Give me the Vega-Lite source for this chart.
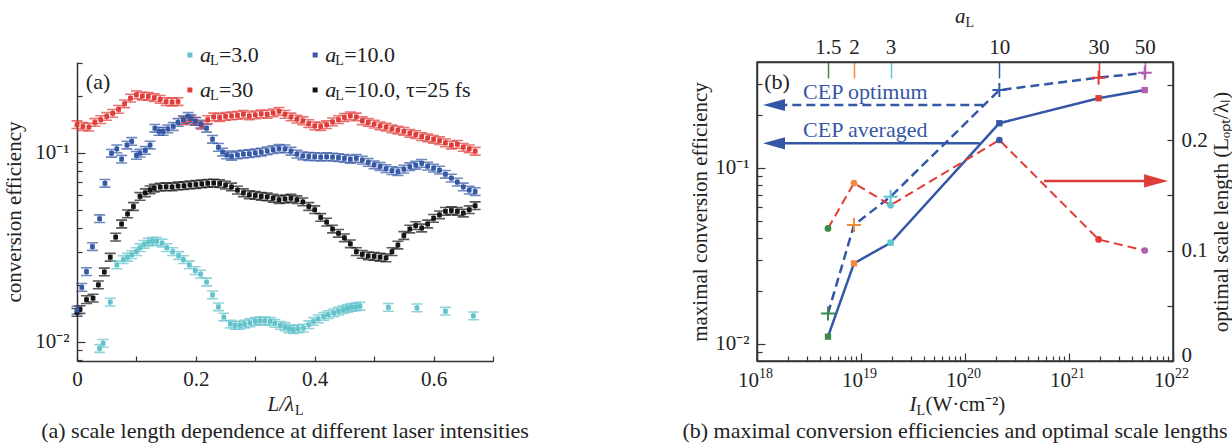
{
  "$schema": "https://vega.github.io/schema/vega-lite/v6.json",
  "padding": {"left": 3, "top": 5, "right": 0, "bottom": 0},
  "bounds": "flush",
  "spacing": 264,
  "background": "white",
  "resolve": {"scale": {"color": "independent"}},
  "datasets": {
    "left": [
      {"s":"a30","x":0,"y":0.141},{"s":"a30","x":0.01,"y":0.138},{"s":"a30","x":0.02,"y":0.137},{"s":"a30","x":0.03,"y":0.145},{"s":"a30","x":0.04,"y":0.150},{"s":"a30","x":0.05,"y":0.156},{"s":"a30","x":0.06,"y":0.162},{"s":"a30","x":0.07,"y":0.170},{"s":"a30","x":0.08,"y":0.182},{"s":"a30","x":0.09,"y":0.195},{"s":"a30","x":0.10,"y":0.203},{"s":"a30","x":0.11,"y":0.200},{"s":"a30","x":0.12,"y":0.199},{"s":"a30","x":0.13,"y":0.196},{"s":"a30","x":0.14,"y":0.192},{"s":"a30","x":0.15,"y":0.187},{"s":"a30","x":0.16,"y":0.186},{"s":"a30","x":0.17,"y":0.187},{"s":"a30","x":0.18,"y":0.148},{"s":"a30","x":0.19,"y":0.150},{"s":"a30","x":0.20,"y":0.147},{"s":"a30","x":0.21,"y":0.140},{"s":"a30","x":0.22,"y":0.150},{"s":"a30","x":0.23,"y":0.155},{"s":"a30","x":0.24,"y":0.154},{"s":"a30","x":0.25,"y":0.156},{"s":"a30","x":0.26,"y":0.157},{"s":"a30","x":0.27,"y":0.158},{"s":"a30","x":0.28,"y":0.160},{"s":"a30","x":0.29,"y":0.157},{"s":"a30","x":0.30,"y":0.159},{"s":"a30","x":0.31,"y":0.161},{"s":"a30","x":0.32,"y":0.160},{"s":"a30","x":0.33,"y":0.163},{"s":"a30","x":0.34,"y":0.166},{"s":"a30","x":0.35,"y":0.160},{"s":"a30","x":0.36,"y":0.155},{"s":"a30","x":0.37,"y":0.151},{"s":"a30","x":0.38,"y":0.148},{"s":"a30","x":0.39,"y":0.143},{"s":"a30","x":0.40,"y":0.139},{"s":"a30","x":0.41,"y":0.138},{"s":"a30","x":0.42,"y":0.141},{"s":"a30","x":0.43,"y":0.146},{"s":"a30","x":0.44,"y":0.150},{"s":"a30","x":0.45,"y":0.154},{"s":"a30","x":0.46,"y":0.157},{"s":"a30","x":0.47,"y":0.155},{"s":"a30","x":0.48,"y":0.148},{"s":"a30","x":0.49,"y":0.145},{"s":"a30","x":0.50,"y":0.142},{"s":"a30","x":0.51,"y":0.139},{"s":"a30","x":0.52,"y":0.137},{"s":"a30","x":0.53,"y":0.134},{"s":"a30","x":0.54,"y":0.132},{"s":"a30","x":0.55,"y":0.130},{"s":"a30","x":0.56,"y":0.127},{"s":"a30","x":0.57,"y":0.125},{"s":"a30","x":0.58,"y":0.122},{"s":"a30","x":0.59,"y":0.120},{"s":"a30","x":0.60,"y":0.118},{"s":"a30","x":0.61,"y":0.116},{"s":"a30","x":0.62,"y":0.113},{"s":"a30","x":0.63,"y":0.110},{"s":"a30","x":0.64,"y":0.111},{"s":"a30","x":0.65,"y":0.107},{"s":"a30","x":0.66,"y":0.105},{"s":"a30","x":0.67,"y":0.102},
      {"s":"a10t","x":0,"y":0.0143},{"s":"a10t","x":0.005,"y":0.0148},{"s":"a10t","x":0.016,"y":0.0167},{"s":"a10t","x":0.027,"y":0.0170},{"s":"a10t","x":0.036,"y":0.0200},{"s":"a10t","x":0.046,"y":0.0234},{"s":"a10t","x":0.056,"y":0.0280},{"s":"a10t","x":0.065,"y":0.0358},{"s":"a10t","x":0.075,"y":0.0420},{"s":"a10t","x":0.085,"y":0.0475},{"s":"a10t","x":0.095,"y":0.0520},{"s":"a10t","x":0.106,"y":0.0588},{"s":"a10t","x":0.115,"y":0.0615},{"s":"a10t","x":0.123,"y":0.0637},{"s":"a10t","x":0.13,"y":0.0650},{"s":"a10t","x":0.14,"y":0.0659},{"s":"a10t","x":0.15,"y":0.0662},{"s":"a10t","x":0.16,"y":0.0660},{"s":"a10t","x":0.17,"y":0.0668},{"s":"a10t","x":0.18,"y":0.0670},{"s":"a10t","x":0.19,"y":0.0677},{"s":"a10t","x":0.20,"y":0.0680},{"s":"a10t","x":0.21,"y":0.0686},{"s":"a10t","x":0.22,"y":0.0690},{"s":"a10t","x":0.23,"y":0.0692},{"s":"a10t","x":0.24,"y":0.0688},{"s":"a10t","x":0.25,"y":0.0675},{"s":"a10t","x":0.26,"y":0.0660},{"s":"a10t","x":0.27,"y":0.0635},{"s":"a10t","x":0.28,"y":0.0615},{"s":"a10t","x":0.29,"y":0.0600},{"s":"a10t","x":0.30,"y":0.0595},{"s":"a10t","x":0.31,"y":0.0588},{"s":"a10t","x":0.32,"y":0.0585},{"s":"a10t","x":0.33,"y":0.0575},{"s":"a10t","x":0.34,"y":0.0565},{"s":"a10t","x":0.35,"y":0.0570},{"s":"a10t","x":0.36,"y":0.0575},{"s":"a10t","x":0.37,"y":0.0565},{"s":"a10t","x":0.38,"y":0.0550},{"s":"a10t","x":0.39,"y":0.0520},{"s":"a10t","x":0.40,"y":0.0500},{"s":"a10t","x":0.41,"y":0.0455},{"s":"a10t","x":0.42,"y":0.0430},{"s":"a10t","x":0.43,"y":0.0395},{"s":"a10t","x":0.44,"y":0.0375},{"s":"a10t","x":0.45,"y":0.0355},{"s":"a10t","x":0.46,"y":0.0330},{"s":"a10t","x":0.47,"y":0.0300},{"s":"a10t","x":0.48,"y":0.0290},{"s":"a10t","x":0.49,"y":0.0285},{"s":"a10t","x":0.50,"y":0.0283},{"s":"a10t","x":0.51,"y":0.0280},{"s":"a10t","x":0.52,"y":0.0278},{"s":"a10t","x":0.53,"y":0.0300},{"s":"a10t","x":0.54,"y":0.0325},{"s":"a10t","x":0.55,"y":0.0365},{"s":"a10t","x":0.56,"y":0.0395},{"s":"a10t","x":0.57,"y":0.0412},{"s":"a10t","x":0.58,"y":0.0400},{"s":"a10t","x":0.59,"y":0.0420},{"s":"a10t","x":0.60,"y":0.0450},{"s":"a10t","x":0.61,"y":0.0470},{"s":"a10t","x":0.62,"y":0.0490},{"s":"a10t","x":0.63,"y":0.0495},{"s":"a10t","x":0.64,"y":0.0490},{"s":"a10t","x":0.65,"y":0.0480},{"s":"a10t","x":0.66,"y":0.0500},{"s":"a10t","x":0.67,"y":0.0525},
      {"s":"a3","x":0.038,"y":0.0092},{"s":"a3","x":0.044,"y":0.0098},{"s":"a3","x":0.056,"y":0.0162},{"s":"a3","x":0.067,"y":0.0255},{"s":"a3","x":0.078,"y":0.0272},{"s":"a3","x":0.085,"y":0.0280},{"s":"a3","x":0.092,"y":0.0289},{"s":"a3","x":0.10,"y":0.0300},{"s":"a3","x":0.106,"y":0.0315},{"s":"a3","x":0.113,"y":0.0328},{"s":"a3","x":0.12,"y":0.0337},{"s":"a3","x":0.127,"y":0.0340},{"s":"a3","x":0.134,"y":0.0340},{"s":"a3","x":0.143,"y":0.0333},{"s":"a3","x":0.151,"y":0.0315},{"s":"a3","x":0.161,"y":0.0300},{"s":"a3","x":0.171,"y":0.0286},{"s":"a3","x":0.179,"y":0.0272},{"s":"a3","x":0.189,"y":0.0255},{"s":"a3","x":0.199,"y":0.0238},{"s":"a3","x":0.208,"y":0.0228},{"s":"a3","x":0.218,"y":0.0207},{"s":"a3","x":0.228,"y":0.0177},{"s":"a3","x":0.238,"y":0.0153},{"s":"a3","x":0.247,"y":0.0135},{"s":"a3","x":0.258,"y":0.0124},{"s":"a3","x":0.266,"y":0.0122},{"s":"a3","x":0.274,"y":0.0122},{"s":"a3","x":0.282,"y":0.0124},{"s":"a3","x":0.291,"y":0.0126},{"s":"a3","x":0.30,"y":0.0128},{"s":"a3","x":0.308,"y":0.0129},{"s":"a3","x":0.316,"y":0.0129},{"s":"a3","x":0.325,"y":0.0128},{"s":"a3","x":0.333,"y":0.0125},{"s":"a3","x":0.342,"y":0.0122},{"s":"a3","x":0.35,"y":0.0120},{"s":"a3","x":0.357,"y":0.0117},{"s":"a3","x":0.364,"y":0.0116},{"s":"a3","x":0.372,"y":0.0117},{"s":"a3","x":0.381,"y":0.0118},{"s":"a3","x":0.39,"y":0.0123},{"s":"a3","x":0.398,"y":0.0128},{"s":"a3","x":0.406,"y":0.0132},{"s":"a3","x":0.415,"y":0.0136},{"s":"a3","x":0.423,"y":0.0139},{"s":"a3","x":0.432,"y":0.0142},{"s":"a3","x":0.44,"y":0.0145},{"s":"a3","x":0.448,"y":0.0148},{"s":"a3","x":0.455,"y":0.0150},{"s":"a3","x":0.462,"y":0.0152},{"s":"a3","x":0.469,"y":0.0153},{"s":"a3","x":0.476,"y":0.0154},{"s":"a3","x":0.524,"y":0.0152},{"s":"a3","x":0.572,"y":0.0151},{"s":"a3","x":0.62,"y":0.0145},{"s":"a3","x":0.667,"y":0.0137},
      {"s":"a10","x":0,"y":0.0147},{"s":"a10","x":0.008,"y":0.0194},{"s":"a10","x":0.016,"y":0.0235},{"s":"a10","x":0.026,"y":0.0319},{"s":"a10","x":0.038,"y":0.0448},{"s":"a10","x":0.047,"y":0.069},{"s":"a10","x":0.058,"y":0.0995},{"s":"a10","x":0.067,"y":0.105},{"s":"a10","x":0.075,"y":0.0926},{"s":"a10","x":0.084,"y":0.110},{"s":"a10","x":0.092,"y":0.115},{"s":"a10","x":0.10,"y":0.097},{"s":"a10","x":0.106,"y":0.0996},{"s":"a10","x":0.115,"y":0.103},{"s":"a10","x":0.123,"y":0.110},{"s":"a10","x":0.131,"y":0.135},{"s":"a10","x":0.138,"y":0.130},{"s":"a10","x":0.145,"y":0.130},{"s":"a10","x":0.153,"y":0.134},{"s":"a10","x":0.162,"y":0.138},{"s":"a10","x":0.17,"y":0.145},{"s":"a10","x":0.179,"y":0.150},{"s":"a10","x":0.187,"y":0.156},{"s":"a10","x":0.192,"y":0.152},{"s":"a10","x":0.199,"y":0.147},{"s":"a10","x":0.208,"y":0.142},{"s":"a10","x":0.218,"y":0.135},{"s":"a10","x":0.228,"y":0.118},{"s":"a10","x":0.238,"y":0.107},{"s":"a10","x":0.245,"y":0.101},{"s":"a10","x":0.252,"y":0.0976},{"s":"a10","x":0.26,"y":0.096},{"s":"a10","x":0.27,"y":0.0975},{"s":"a10","x":0.28,"y":0.0985},{"s":"a10","x":0.29,"y":0.099},{"s":"a10","x":0.30,"y":0.100},{"s":"a10","x":0.31,"y":0.101},{"s":"a10","x":0.32,"y":0.1025},{"s":"a10","x":0.33,"y":0.104},{"s":"a10","x":0.34,"y":0.1055},{"s":"a10","x":0.35,"y":0.105},{"s":"a10","x":0.36,"y":0.102},{"s":"a10","x":0.37,"y":0.0985},{"s":"a10","x":0.38,"y":0.0965},{"s":"a10","x":0.39,"y":0.0957},{"s":"a10","x":0.40,"y":0.0955},{"s":"a10","x":0.41,"y":0.095},{"s":"a10","x":0.42,"y":0.0955},{"s":"a10","x":0.43,"y":0.095},{"s":"a10","x":0.44,"y":0.0945},{"s":"a10","x":0.45,"y":0.0935},{"s":"a10","x":0.46,"y":0.0925},{"s":"a10","x":0.47,"y":0.0935},{"s":"a10","x":0.48,"y":0.0915},{"s":"a10","x":0.49,"y":0.089},{"s":"a10","x":0.50,"y":0.0865},{"s":"a10","x":0.51,"y":0.0847},{"s":"a10","x":0.52,"y":0.0825},{"s":"a10","x":0.53,"y":0.0805},{"s":"a10","x":0.54,"y":0.0797},{"s":"a10","x":0.55,"y":0.082},{"s":"a10","x":0.56,"y":0.0845},{"s":"a10","x":0.57,"y":0.086},{"s":"a10","x":0.58,"y":0.088},{"s":"a10","x":0.59,"y":0.085},{"s":"a10","x":0.60,"y":0.083},{"s":"a10","x":0.61,"y":0.081},{"s":"a10","x":0.62,"y":0.077},{"s":"a10","x":0.63,"y":0.0735},{"s":"a10","x":0.64,"y":0.070},{"s":"a10","x":0.65,"y":0.066},{"s":"a10","x":0.66,"y":0.0635},{"s":"a10","x":0.67,"y":0.0624}
    ],
    "leg": [
      {"s":"a3","x":0.190,"y":0.330,"rest":"=3.0"},
      {"s":"a10","x":0.4007,"y":0.330,"rest":"=10.0"},
      {"s":"a30","x":0.190,"y":0.2154,"rest":"=30"},
      {"s":"a10t","x":0.4007,"y":0.2154,"rest":"=10.0, τ=25 fs"}
    ],
    "rp": [
      {"a":1.5,"I":4.815e18,"avg":0.0110,"opt":0.0149,"lopt":0.120},
      {"a":2,"I":8.56e18,"avg":0.0287,"opt":0.0474,"lopt":0.161},
      {"a":3,"I":1.926e19,"avg":0.0376,"opt":0.0687,"lopt":0.141},
      {"a":10,"I":2.14e20,"avg":0.1795,"opt":0.277,"lopt":0.200},
      {"a":30,"I":1.926e21,"avg":0.249,"opt":0.326,"lopt":0.110},
      {"a":50,"I":5.35e21,"avg":0.277,"opt":0.347,"lopt":0.100}
    ],
    "xlab": [
      {"I":1e18,"v":0.00617,"e":"18"},
      {"I":1e19,"v":0.00617,"e":"19"},
      {"I":1e20,"v":0.00617,"e":"20"},
      {"I":1e21,"v":0.00617,"e":"21"},
      {"I":1e22,"v":0.00617,"e":"22"}
    ]
  },
  "hconcat": [
    {
      "width": 416,
      "height": 299,
      "view": {"stroke": null},
      "title": {"text": "(a) scale length dependence at different laser intensities", "orient": "bottom", "offset": 3},
      "encoding": {
        "x": {"field": "x", "type": "quantitative",
          "scale": {"domain": [0, 0.7], "nice": false, "zero": false},
          "axis": {"title": null, "values": [0,0.1,0.2,0.3,0.4,0.5,0.6,0.7],
            "labelExpr": "datum.value == 0 ? '0' : (datum.value == 0.2 || datum.value == 0.4 || datum.value == 0.6) ? format(datum.value, '.1f') : ''",
            "tickSize": -5, "labelPadding": 12}},
        "y": {"field": "y", "type": "quantitative",
          "scale": {"type": "log", "domain": [0.0079, 0.303], "nice": false},
          "axis": {"title": "conversion efficiency", "titlePadding": 10,
            "values": [0.008,0.009,0.01,0.02,0.03,0.04,0.05,0.06,0.07,0.08,0.09,0.1,0.2,0.3],
            "labelExpr": "datum.value == 0.1 ? '10⁻¹' : datum.value == 0.01 ? '10⁻²' : ''",
            "tickSize": {"condition": {"test": "datum.value == 0.1 || datum.value == 0.01", "value": -8}, "value": -5},
            "labelPadding": 16}}
      },
      "layer": [
        {"data": {"name": "left"},
         "mark": {"type": "point", "shape": "M-1,-0.7H1M-1,0.7H1M0,-0.7V0.7", "filled": false, "size": 121, "strokeWidth": 1.6, "opacity": 0.7},
         "encoding": {"color": {"field": "s", "type": "nominal", "scale": {"domain": ["a3","a10","a30","a10t"], "range": ["#62c3cb","#3457a6","#e03c38","#151515"]}, "legend": null}}},
        {"data": {"name": "left"},
         "mark": {"type": "point", "shape": "square", "filled": true, "size": 22, "opacity": 1},
         "encoding": {"color": {"field": "s", "type": "nominal", "legend": null}}},
        {"data": {"name": "leg"},
         "mark": {"type": "point", "shape": "square", "filled": true, "size": 25, "opacity": 1},
         "encoding": {"color": {"field": "s", "type": "nominal", "legend": null}}},
        {"data": {"name": "leg"},
         "mark": {"type": "text", "text": "a", "fontStyle": "italic", "align": "left", "baseline": "middle", "dx": 10, "fontSize": 22, "color": "#222"}},
        {"data": {"name": "leg"},
         "mark": {"type": "text", "text": "L", "align": "left", "baseline": "middle", "dx": 20, "dy": 6, "fontSize": 14, "color": "#222"}},
        {"data": {"name": "leg"},
         "mark": {"type": "text", "align": "left", "baseline": "middle", "dx": 29, "fontSize": 22, "color": "#222"},
         "encoding": {"text": {"field": "rest"}}},
        {"data": {"values": [{"x": 0.0354, "y": 0.2375, "t": "(a)"}]},
         "mark": {"type": "text", "align": "center", "baseline": "middle", "fontSize": 22, "color": "#222"},
         "encoding": {"text": {"field": "t"}}},
        {"data": {"values": [{"x": 0.3653, "y": 0.00464, "t": "L/λ"}]},
         "mark": {"type": "text", "align": "right", "baseline": "middle", "fontSize": 21, "fontStyle": "italic", "color": "#222"},
         "encoding": {"text": {"field": "t"}}},
        {"data": {"values": [{"x": 0.3653, "y": 0.00464, "t": "L"}]},
         "mark": {"type": "text", "align": "left", "baseline": "middle", "dx": 1, "dy": 6, "fontSize": 14, "color": "#222"},
         "encoding": {"text": {"field": "t"}}}
      ]
    },
    {
      "width": 416,
      "height": 299,
      "view": {"stroke": "#333", "strokeWidth": 1.5},
      "title": {"text": "(b) maximal conversion efficiencies and optimal scale lengths", "orient": "bottom", "offset": 3, "dx": -10},
      "layer": [
        {
          "layer": [
            {"data": {"name": "rp"},
             "mark": {"type": "line", "color": "#3457a6", "strokeWidth": 2.5},
             "encoding": {
               "x": {"field": "I", "type": "quantitative",
                 "scale": {"type": "log", "domain": [1e18, 1e22], "nice": false},
                 "axis": {"orient": "bottom", "title": null,
                   "values": [1e18,2e18,3e18,4e18,5e18,6e18,7e18,8e18,9e18,1e19,2e19,3e19,4e19,5e19,6e19,7e19,8e19,9e19,1e20,2e20,3e20,4e20,5e20,6e20,7e20,8e20,9e20,1e21,2e21,3e21,4e21,5e21,6e21,7e21,8e21,9e21,1e22],
                   "labels": false,
                   "tickSize": {"condition": {"test": "datum.value == 1e18 || datum.value == 1e19 || datum.value == 1e20 || datum.value == 1e21 || datum.value == 1e22", "value": -8}, "value": -5}}},
               "y": {"field": "avg", "type": "quantitative",
                 "scale": {"type": "log", "domain": [0.008, 0.40], "nice": false},
                 "axis": {"orient": "left", "title": "maximal conversion efficiency", "titlePadding": 4,
                   "values": [0.008,0.009,0.01,0.02,0.03,0.04,0.05,0.06,0.07,0.08,0.09,0.1,0.2,0.3],
                   "labelExpr": "datum.value == 0.1 ? '10⁻¹' : datum.value == 0.01 ? '10⁻²' : ''",
                   "tickSize": {"condition": {"test": "datum.value == 0.1 || datum.value == 0.01", "value": -8}, "value": -5},
                   "labelPadding": 16}}
             }},
            {"data": {"name": "rp"},
             "mark": {"type": "line", "color": "#3457a6", "strokeWidth": 2.5, "strokeDash": [9, 5]},
             "encoding": {"x": {"field": "I", "type": "quantitative"}, "y": {"field": "opt", "type": "quantitative"}}},
            {"data": {"values": [{"kind": "opt", "I": 1.50e20, "I2": 1.858e18, "v": 0.228}, {"kind": "avg", "I": 1.38e20, "I2": 1.858e18, "v": 0.138}]},
             "mark": {"type": "rule", "color": "#3457a6", "strokeWidth": 2.5},
             "encoding": {"x": {"field": "I", "type": "quantitative"}, "x2": {"field": "I2"}, "y": {"field": "v", "type": "quantitative"},
               "strokeDash": {"field": "kind", "type": "nominal", "scale": {"domain": ["opt", "avg"], "range": [[9, 5], [1, 0]]}, "legend": null}}},
            {"data": {"values": [{"I": 1.457e18, "v": 0.228}, {"I": 1.457e18, "v": 0.138}]},
             "mark": {"type": "point", "shape": "M-1,0L1,-0.55L1,0.55Z", "filled": true, "size": 484, "color": "#3457a6", "opacity": 1},
             "encoding": {"x": {"field": "I", "type": "quantitative"}, "y": {"field": "v", "type": "quantitative"}}},
            {"data": {"name": "rp"},
             "mark": {"type": "point", "shape": "square", "filled": true, "size": 40, "opacity": 1},
             "encoding": {"x": {"field": "I", "type": "quantitative"}, "y": {"field": "avg", "type": "quantitative"},
               "color": {"field": "a", "type": "nominal", "scale": {"domain": [1.5, 2, 3, 10, 30, 50], "range": ["#3a8a48", "#f08a3e", "#62c6cf", "#3457a6", "#e03c38", "#b15fb3"]}, "legend": null}}},
            {"data": {"name": "rp"},
             "mark": {"type": "point", "shape": "M-1,0H1M0,-1V1", "filled": false, "size": 196, "strokeWidth": 2, "opacity": 1},
             "encoding": {"x": {"field": "I", "type": "quantitative"}, "y": {"field": "opt", "type": "quantitative"},
               "color": {"field": "a", "type": "nominal", "legend": null}}},
            {"data": {"name": "xlab"},
             "mark": {"type": "text", "text": "10", "align": "right", "baseline": "middle", "dx": 2, "fontSize": 21, "color": "#222"},
             "encoding": {"x": {"field": "I", "type": "quantitative"}, "y": {"field": "v", "type": "quantitative"}}},
            {"data": {"name": "xlab"},
             "mark": {"type": "text", "align": "left", "baseline": "middle", "dx": 2, "dy": -7, "fontSize": 14, "color": "#222"},
             "encoding": {"x": {"field": "I", "type": "quantitative"}, "y": {"field": "v", "type": "quantitative"}, "text": {"field": "e"}}},
            {"data": {"values": [{"I": 1.557e18, "v": 0.308, "t": "(b)"}]},
             "mark": {"type": "text", "align": "center", "baseline": "middle", "fontSize": 22, "color": "#222"},
             "encoding": {"x": {"field": "I", "type": "quantitative"}, "y": {"field": "v", "type": "quantitative"}, "text": {"field": "t"}}},
            {"data": {"values": [{"I": 2.77e18, "v": 0.270, "t": "CEP optimum"}, {"I": 2.77e18, "v": 0.1644, "t": "CEP averaged"}]},
             "mark": {"type": "text", "align": "left", "baseline": "middle", "fontSize": 22, "color": "#3457a6"},
             "encoding": {"x": {"field": "I", "type": "quantitative"}, "y": {"field": "v", "type": "quantitative"}, "text": {"field": "t"}}},
            {"data": {"values": [{"I": 3.42e19, "v": 0.00452, "t": "I"}]},
             "mark": {"type": "text", "align": "right", "baseline": "middle", "fontSize": 21, "fontStyle": "italic", "color": "#222"},
             "encoding": {"x": {"field": "I", "type": "quantitative"}, "y": {"field": "v", "type": "quantitative"}, "text": {"field": "t"}}},
            {"data": {"values": [{"I": 3.42e19, "v": 0.00452, "t": "L"}]},
             "mark": {"type": "text", "align": "left", "baseline": "middle", "dx": 0, "dy": 6, "fontSize": 14, "color": "#222"},
             "encoding": {"x": {"field": "I", "type": "quantitative"}, "y": {"field": "v", "type": "quantitative"}, "text": {"field": "t"}}},
            {"data": {"values": [{"I": 3.42e19, "v": 0.00452, "t": "(W·cm⁻²)"}]},
             "mark": {"type": "text", "align": "left", "baseline": "middle", "dx": 9, "fontSize": 21, "color": "#222"},
             "encoding": {"x": {"field": "I", "type": "quantitative"}, "y": {"field": "v", "type": "quantitative"}, "text": {"field": "t"}}}
          ]
        },
        {
          "layer": [
            {"data": {"name": "rp"},
             "mark": {"type": "line", "color": "#e03c38", "strokeWidth": 2, "strokeDash": [9, 5]},
             "encoding": {
               "x": {"field": "I", "type": "quantitative",
                 "scale": {"type": "log", "domain": [1e18, 1e22], "nice": false},
                 "axis": {"orient": "top", "title": null,
                   "values": [4.815e18, 8.56e18, 1.926e19, 2.14e20, 1.926e21, 5.35e21],
                   "labelExpr": "datum.value < 6e18 ? '1.5' : datum.value < 1.2e19 ? '2' : datum.value < 1e20 ? '3' : datum.value < 1e21 ? '10' : datum.value < 3e21 ? '30' : '50'",
                   "tickSize": -16, "tickWidth": 1.5, "labelPadding": 21,
                   "tickColor": {"condition": [
                     {"test": "datum.value < 6e18", "value": "#3a8a48"},
                     {"test": "datum.value < 1.2e19", "value": "#f08a3e"},
                     {"test": "datum.value < 1e20", "value": "#62c6cf"},
                     {"test": "datum.value < 1e21", "value": "#3457a6"},
                     {"test": "datum.value < 3e21", "value": "#e03c38"}
                   ], "value": "#b15fb3"}}},
               "y": {"field": "lopt", "type": "quantitative",
                 "scale": {"domain": [0, 0.2706], "nice": false, "zero": false},
                 "axis": {"orient": "right", "title": "optimal scale length (Lₒₚₜ/λₗ)", "titleAngle": 270, "titleBaseline": "top", "titlePadding": 3,
                   "values": [0, 0.05, 0.1, 0.15, 0.2, 0.25],
                   "labelExpr": "datum.value == 0 ? '0' : datum.value == 0.1 ? '0.1' : datum.value == 0.2 ? '0.2' : ''",
                   "labelOffset": {"condition": {"test": "datum.value == 0", "value": -6}, "value": 0},
                   "tickSize": -6, "labelPadding": 14}}
             }},
            {"data": {"name": "rp"},
             "mark": {"type": "point", "shape": "circle", "filled": true, "size": 45, "opacity": 1},
             "encoding": {"x": {"field": "I", "type": "quantitative"}, "y": {"field": "lopt", "type": "quantitative"},
               "color": {"field": "a", "type": "nominal", "legend": null}}},
            {"data": {"values": [{"I": 5.75e20, "I2": 5.26e21, "v": 0.163}]},
             "mark": {"type": "rule", "color": "#e03c38", "strokeWidth": 2.5},
             "encoding": {"x": {"field": "I", "type": "quantitative"}, "x2": {"field": "I2"}, "y": {"field": "v", "type": "quantitative"}}},
            {"data": {"values": [{"I": 6.87e21, "v": 0.163}]},
             "mark": {"type": "point", "shape": "M1,0L-1,-0.55L-1,0.55Z", "filled": true, "size": 576, "color": "#e03c38", "opacity": 1},
             "encoding": {"x": {"field": "I", "type": "quantitative"}, "y": {"field": "v", "type": "quantitative"}}},
            {"data": {"values": [{"I": 1.012e20, "v": 0.3113, "t": "a"}]},
             "mark": {"type": "text", "align": "right", "baseline": "middle", "fontSize": 21, "fontStyle": "italic", "color": "#222"},
             "encoding": {"x": {"field": "I", "type": "quantitative"}, "y": {"field": "v", "type": "quantitative"}, "text": {"field": "t"}}},
            {"data": {"values": [{"I": 1.012e20, "v": 0.3113, "t": "L"}]},
             "mark": {"type": "text", "align": "left", "baseline": "middle", "dx": 0, "dy": 6, "fontSize": 14, "color": "#222"},
             "encoding": {"x": {"field": "I", "type": "quantitative"}, "y": {"field": "v", "type": "quantitative"}, "text": {"field": "t"}}}
          ]
        }
      ],
      "resolve": {"scale": {"y": "independent"}, "axis": {"x": "independent", "y": "independent"}}
    }
  ],
  "config": {
    "font": "Liberation Serif",
    "axis": {"labelFont": "Liberation Serif", "labelFontSize": 21, "labelColor": "#222", "titleFont": "Liberation Serif", "titleFontSize": 21, "titleFontWeight": "normal", "titleColor": "#222", "domainColor": "#333", "domainWidth": 1.5, "tickColor": "#333", "tickWidth": 1.2, "grid": false, "labelOverlap": false, "labelFlush": false, "labelBound": false},
    "text": {"font": "Liberation Serif", "fontSize": 22},
    "title": {"font": "Liberation Serif", "fontSize": 22, "fontWeight": "normal", "color": "#222"}
  }
}
